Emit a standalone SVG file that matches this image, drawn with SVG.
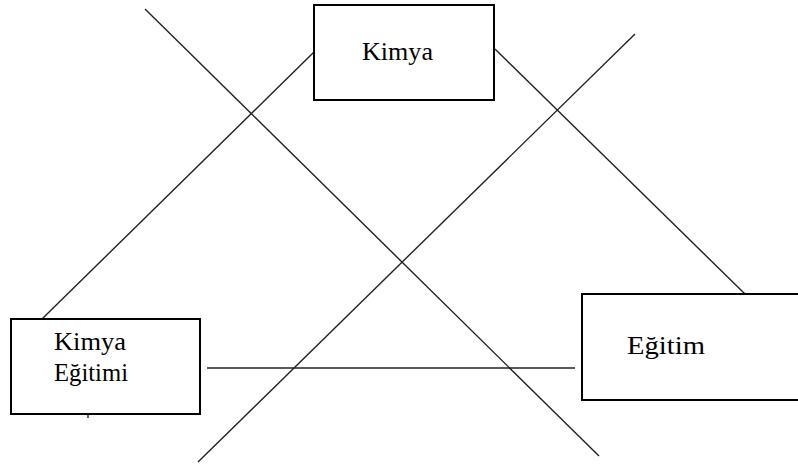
<svg xmlns="http://www.w3.org/2000/svg" width="798" height="466" viewBox="0 0 798 466">
<style>
.box{fill:#fff;stroke:#000;stroke-width:2}
.ln{stroke:#222;stroke-width:1.4;fill:none}
.t{font-family:"Liberation Serif","DejaVu Serif","Times New Roman",serif;font-size:25px;fill:#000}
</style>
<rect width="798" height="466" fill="#fff"/>
<g id="connectors">
<line class="ln" x1="145" y1="9" x2="599" y2="456"/>
<line class="ln" x1="635" y1="34" x2="198" y2="462"/>
<line class="ln" x1="42" y1="319" x2="314" y2="52"/>
<line class="ln" x1="495" y1="49" x2="745" y2="294"/>
<line class="ln" x1="207" y1="368" x2="575" y2="368"/>
<line class="ln" x1="88" y1="412" x2="88" y2="418"/>
<line class="ln" x1="780" y1="301" x2="780" y2="303"/>
</g>
<g id="kimya">
<rect class="box" x="314" y="5" width="180" height="95"/>
<text class="t" x="362" y="60" textLength="71" lengthAdjust="spacingAndGlyphs">Kimya</text>
</g>
<g id="kimya-egitimi">
<rect class="box" x="11" y="319" width="189" height="95"/>
<text class="t" x="54" y="350" textLength="72" lengthAdjust="spacingAndGlyphs">Kimya</text>
<text class="t" x="54" y="381" textLength="74" lengthAdjust="spacingAndGlyphs">Eğitimi</text>
</g>
<g id="egitim">
<rect class="box" x="582" y="294" width="230" height="106"/>
<text class="t" x="627" y="354" textLength="78" lengthAdjust="spacingAndGlyphs">Eğitim</text>
</g>
</svg>
